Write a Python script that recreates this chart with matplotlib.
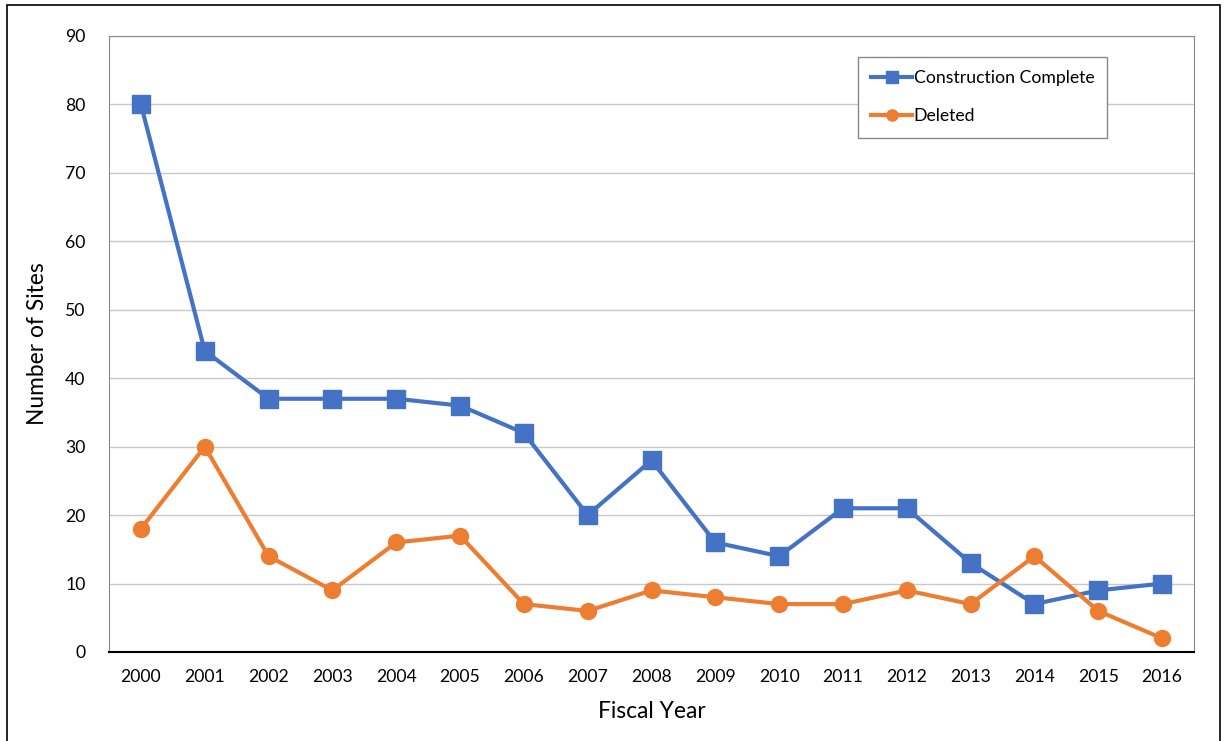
import matplotlib.pyplot as plt
from matplotlib.patches import Rectangle

plt.rcParams['font.family'] = ['Lato', 'DejaVu Sans']

years = ['2000', '2001', '2002', '2003', '2004', '2005', '2006', '2007', '2008',
         '2009', '2010', '2011', '2012', '2013', '2014', '2015', '2016']
construction_complete = [80, 44, 37, 37, 37, 36, 32, 20, 28, 16, 14, 21, 21, 13, 7, 9, 10]
deleted = [18, 30, 14, 9, 16, 17, 7, 6, 9, 8, 7, 7, 9, 7, 14, 6, 2]

fig = plt.figure(figsize=(12.24, 7.41), dpi=100)
ax = fig.add_axes([109 / 1224, 1 - 652 / 741, (1194 - 109) / 1224, (652 - 36) / 741])

x = range(len(years))
ax.plot(x, construction_complete, color='#4472C4', lw=3, marker='s', ms=13,
        label='Construction Complete', zorder=3)
ax.plot(x, deleted, color='#ED7D31', lw=3, marker='o', ms=11.5,
        label='Deleted', zorder=3)

ax.set_xlim(-0.5, len(years) - 0.5)
ax.set_ylim(0, 90)
ax.set_yticks(range(0, 91, 10))
ax.set_xticks(list(x))
ax.set_xticklabels(years)
ax.tick_params(length=0, labelsize=12.7, pad=12)
ax.tick_params(axis='y', pad=17)
ax.grid(axis='y', color='#C8C8C8', lw=1)
ax.set_axisbelow(True)
for side in ['left', 'top', 'right']:
    ax.spines[side].set_color('#888888')
ax.spines['bottom'].set_color('black')
ax.spines['bottom'].set_linewidth(1.5)

ax.set_xlabel('Fiscal Year', fontsize=16.4, labelpad=12)
ax.set_ylabel('Number of Sites', fontsize=16.4, labelpad=12)

leg = ax.legend(loc='upper left', bbox_to_anchor=(858 / 1224, 1 - 57 / 741),
                bbox_transform=fig.transFigure, fontsize=12.7, fancybox=False,
                edgecolor='#888888', framealpha=1, handlelength=2.3,
                handletextpad=0.1, borderpad=0.75, labelspacing=1.25,
                borderaxespad=0, markerscale=0.7)
leg.get_frame().set_linewidth(1)

# outer border around the chart
fig.patches.append(Rectangle((7 / 1224, -0.05), (1220 - 7) / 1224, 1.05 - 5 / 741,
                             transform=fig.transFigure, fill=False,
                             edgecolor='black', lw=1.2))

fig.savefig('out.png', dpi=100)
